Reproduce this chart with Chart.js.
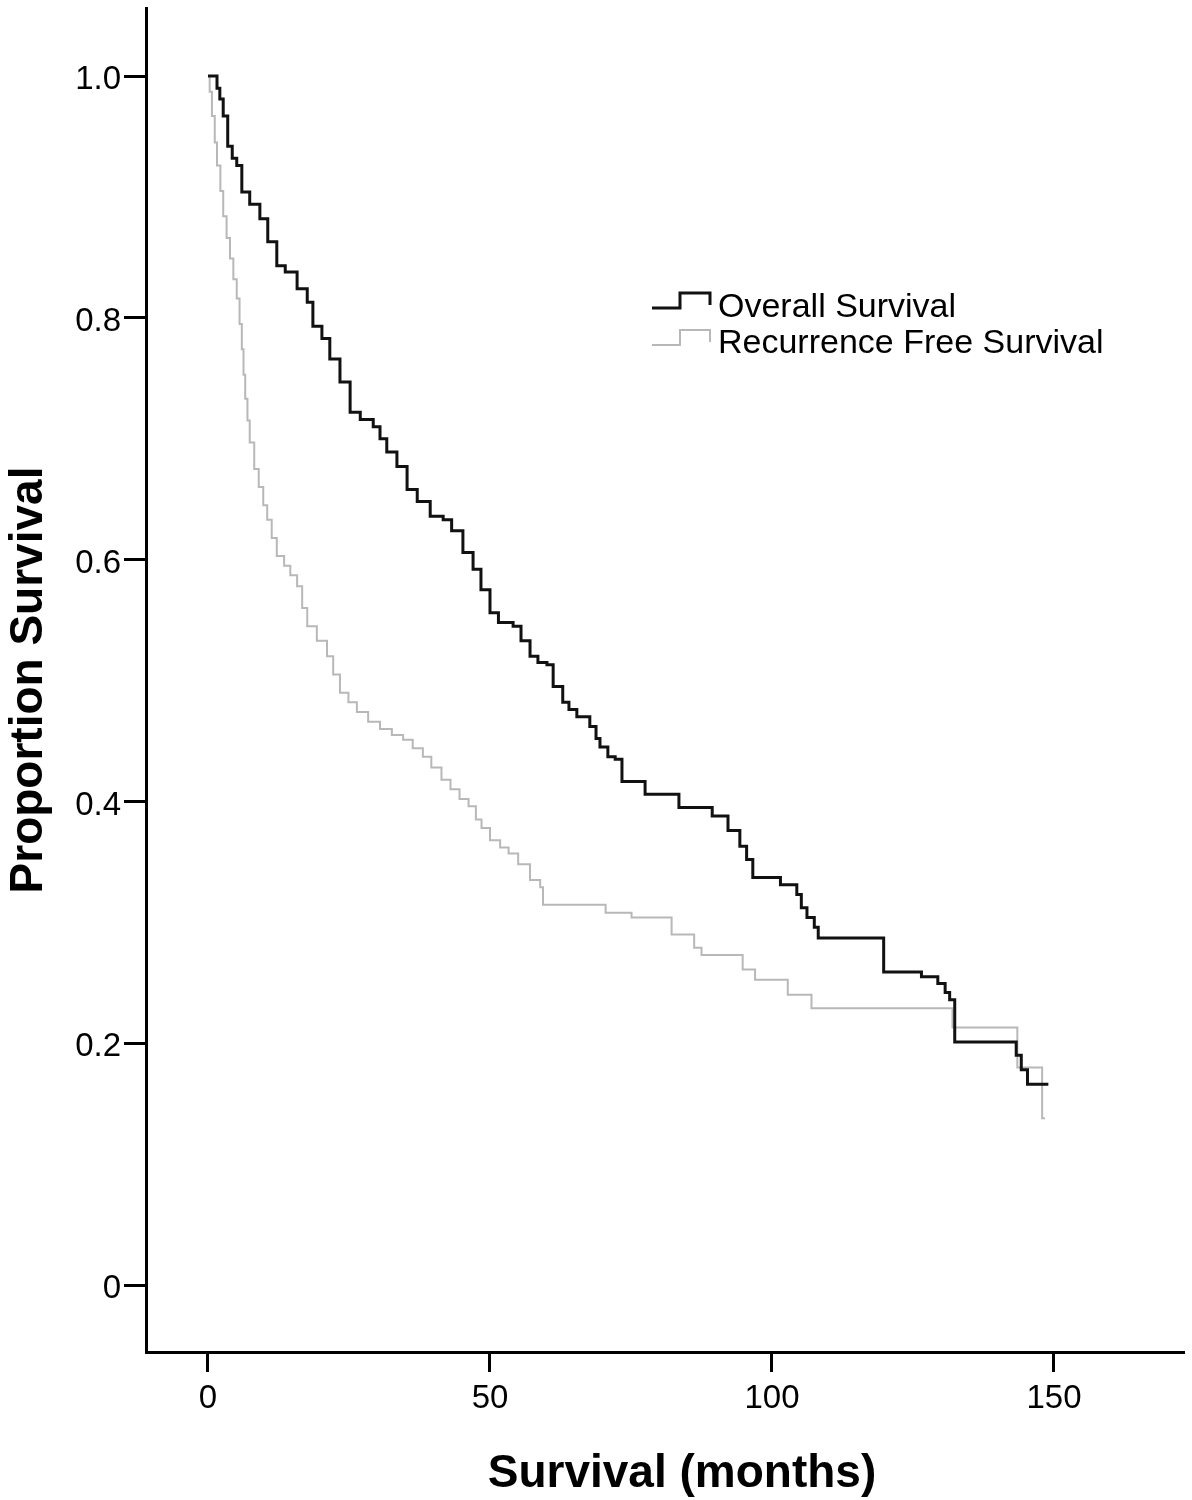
<!DOCTYPE html>
<html>
<head>
<meta charset="utf-8">
<script src="https://cdn.jsdelivr.net/npm/chart.js@4.4.1/dist/chart.umd.min.js"></script>
<style>
  html, body { margin: 0; padding: 0; background: #fff; }
</style>
</head>
<body>
<canvas id="km" width="1192" height="1500"></canvas>
<script>
// Kaplan-Meier curves (months, proportion)
const osTime = [0, 1.6, 2.1, 2.7, 3.5, 4.3, 5.1, 6.0, 7.4, 9.2,
  10.6, 12.2, 13.7, 15.8, 17.6, 18.6, 20.2, 21.6, 23.4, 25.2,
  27.0, 29.3, 30.5, 31.7, 33.5, 35.3, 37.1, 39.4, 41.7, 43.2,
  45.2, 47.0, 48.4, 50.0, 51.5, 54.1, 55.5, 57.1, 58.5, 60.1,
  61.2, 62.9, 64.0, 65.4, 67.7, 68.8, 69.5, 70.9, 72.2, 73.4,
  77.5, 83.5, 89.4, 92.2, 94.3, 95.5, 96.6, 101.5, 104.4, 105.2,
  106.2, 107.5, 108.2, 119.8, 126.5, 129.4, 130.7, 131.5, 132.4, 143.3,
  144.2, 145.3, 149.0];
const osSurv = [1.0, 0.990, 0.981, 0.967, 0.942, 0.932, 0.926, 0.904, 0.894, 0.882,
  0.863, 0.843, 0.838, 0.824, 0.813, 0.793, 0.783, 0.766, 0.747, 0.722,
  0.716, 0.710, 0.700, 0.689, 0.677, 0.658, 0.648, 0.636, 0.633, 0.624,
  0.606, 0.592, 0.575, 0.556, 0.548, 0.545, 0.533, 0.520, 0.515, 0.513,
  0.495, 0.482, 0.476, 0.470, 0.462, 0.452, 0.445, 0.437, 0.435, 0.4165,
  0.406, 0.395, 0.388, 0.376, 0.363, 0.352, 0.337, 0.331, 0.323, 0.312,
  0.304, 0.296, 0.287, 0.259, 0.255, 0.2495, 0.242, 0.236, 0.201, 0.190,
  0.178, 0.166, 0.166];

const rfsTime = [0, 0.3, 0.7, 1.2, 1.6, 2.2, 2.7, 3.3, 3.9, 4.5,
  5.1, 5.6, 6.0, 6.3, 6.6, 7.0, 7.4, 8.2, 9.0, 9.8,
  10.5, 11.3, 12.2, 13.5, 14.6, 15.8, 16.7, 17.6, 19.3, 21.1,
  22.2, 23.4, 24.9, 26.4, 28.4, 30.5, 32.6, 34.6, 36.3, 38.1,
  39.6, 41.4, 43.0, 44.6, 46.2, 47.5, 48.5, 50.0, 51.8, 53.3,
  55.0, 57.1, 58.9, 59.4, 70.5, 75.1, 82.2, 86.2, 87.5, 94.8,
  97.0, 102.8, 107.0, 132.0, 143.5, 147.9, 148.4];
const rfsSurv = [1.0, 0.987, 0.967, 0.945, 0.926, 0.905, 0.884, 0.866, 0.849, 0.832,
  0.816, 0.795, 0.774, 0.753, 0.733, 0.715, 0.697, 0.675, 0.660, 0.645,
  0.633, 0.618, 0.603, 0.595, 0.587, 0.578, 0.560, 0.545, 0.533, 0.520,
  0.505, 0.490, 0.482, 0.474, 0.466, 0.460, 0.455, 0.451, 0.444, 0.437,
  0.428, 0.418, 0.410, 0.402, 0.396, 0.385, 0.378, 0.368, 0.362, 0.357,
  0.348, 0.335, 0.329, 0.3146, 0.308, 0.304, 0.290, 0.279, 0.273, 0.261,
  0.2525, 0.240, 0.229, 0.213, 0.180, 0.138, 0.138];

const seriesLabels = ["Overall Survival", "Recurrence Free Survival"];
const xTicks = [0, 50, 100, 150];
const yTicks = [0, 0.2, 0.4, 0.6, 0.8, 1.0];
const xTitle = "Survival (months)";
const yTitle = "Proportion Survival";

const FONT = '"Liberation Sans", Arial, sans-serif';

function toPoints(ts, ss) {
  return ts.map((t, i) => ({ x: t, y: ss[i] }));
}

// axis titles and the step-shaped legend, SPSS style
const annotate = {
  id: "annotate",
  afterDraw(chart) {
    const ctx = chart.ctx;
    ctx.save();
    ctx.fillStyle = "#000";
    ctx.font = "bold 46px " + FONT;
    ctx.textAlign = "center";
    ctx.textBaseline = "alphabetic";
    ctx.fillText(xTitle, 682, 1487);
    ctx.save();
    ctx.translate(42, 680);
    ctx.rotate(-Math.PI / 2);
    ctx.fillText(yTitle, 0, 0);
    ctx.restore();

    ctx.font = "34px " + FONT;
    ctx.textAlign = "left";
    chart.data.datasets.forEach((ds, i) => {
      const top = 293 + i * 37;
      ctx.strokeStyle = ds.borderColor;
      ctx.lineWidth = ds.borderWidth;
      ctx.beginPath();
      ctx.moveTo(652, top + 15);
      ctx.lineTo(680, top + 15);
      ctx.lineTo(680, top);
      ctx.lineTo(710, top);
      ctx.lineTo(710, top + 12);
      ctx.stroke();
      ctx.fillText(ds.label, 718, 317 + i * 36);
    });
    ctx.restore();
  }
};

new Chart(document.getElementById("km"), {
  type: "line",
  data: {
    datasets: [
      {
        label: seriesLabels[0],
        data: toPoints(osTime, osSurv),
        stepped: "before",
        borderColor: "#111111",
        borderWidth: 3,
        pointRadius: 0,
        fill: false
      },
      {
        label: seriesLabels[1],
        data: toPoints(rfsTime, rfsSurv),
        stepped: "before",
        borderColor: "#b8b8b8",
        borderWidth: 2,
        pointRadius: 0,
        fill: false
      }
    ]
  },
  options: {
    responsive: false,
    animation: false,
    layout: { padding: { top: 8, right: 8, left: 0, bottom: 0 } },
    plugins: {
      legend: { display: false },
      tooltip: { enabled: false }
    },
    scales: {
      x: {
        type: "linear",
        min: -10.99,
        max: 173.05,
        afterBuildTicks: (s) => { s.ticks = xTicks.map((v) => ({ value: v })); },
        afterFit: (s) => { s.height = 148; s.paddingLeft = 0; s.paddingRight = 0; },
        border: { display: true, color: "#000", width: 3 },
        grid: { display: true, drawOnChartArea: false, drawTicks: true, tickLength: 20, tickWidth: 3, tickColor: "#000" },
        ticks: { autoSkip: false, maxRotation: 0, padding: 7, color: "#000", font: { family: FONT, size: 33 } }
      },
      y: {
        type: "linear",
        min: -0.0554,
        max: 1.0563,
        afterBuildTicks: (s) => { s.ticks = yTicks.map((v) => ({ value: v })); },
        afterFit: (s) => { s.width = 146; s.paddingTop = 0; s.paddingBottom = 0; },
        border: { display: true, color: "#000", width: 3 },
        grid: { display: true, drawOnChartArea: false, drawTicks: true, tickLength: 22, tickWidth: 3, tickColor: "#000" },
        ticks: {
          autoSkip: false,
          padding: 3,
          labelOffset: 4,
          color: "#000",
          font: { family: FONT, size: 33 },
          callback: (v) => (v === 0 ? "0" : v.toFixed(1))
        }
      }
    }
  },
  plugins: [annotate]
});
</script>
</body>
</html>
